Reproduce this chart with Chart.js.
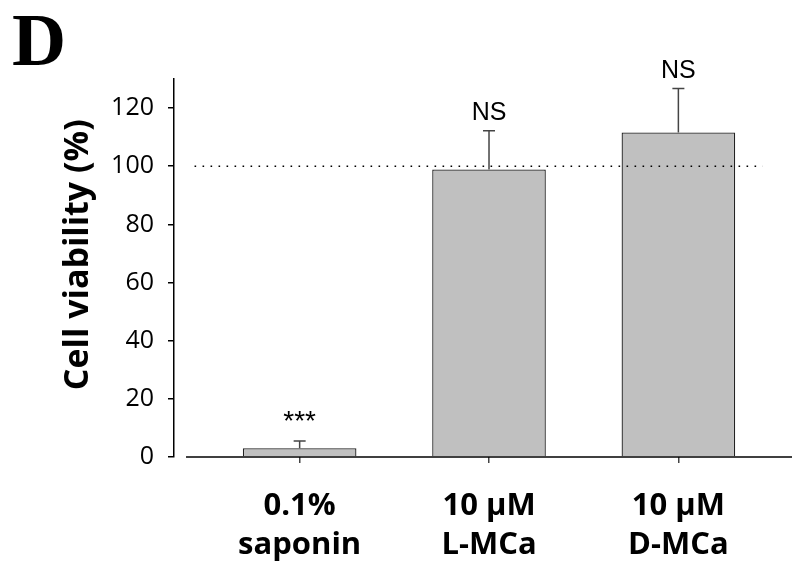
<!DOCTYPE html>
<html>
<head>
<meta charset="utf-8">
<script src="https://cdn.jsdelivr.net/npm/chart.js@4.4.1/dist/chart.umd.min.js"></script>
<style>
    body { margin: 0; background: #fff; }
    #wrap { position: relative; width: 798px; height: 580px; }
    #panel { position: absolute; left: 12px; top: 2px; font: bold 75px "Liberation Serif", serif; line-height: 1; color: #000; }
</style>
</head>
<body>
<div id="wrap">
    <canvas id="viabilityChart" width="798" height="580"></canvas>
    <div id="panel">D</div>
</div>
<script>
const categories = [["0.1%", "saponin"], ["10 μM", "L-MCa"], ["10 μM", "D-MCa"]];
const viability = [3.0, 98.9, 111.6];
const errorTop = [5.5, 112.2, 126.7];
const significance = ["***", "NS", "NS"];
const yTicks = [0, 20, 40, 60, 80, 100, 120];
const controlLevel = 100;

// error bars (upper only), significance marks and the offset x baseline
const errorBars = {
    id: "errorBars",
    afterDatasetsDraw(chart) {
        const ctx = chart.ctx;
        const x = chart.scales.x;
        const y = chart.scales.y;
        const bars = chart.getDatasetMeta(0).data;
        ctx.save();
        bars.forEach((bar, i) => {
            const top = y.getPixelForValue(errorTop[i]);
            ctx.strokeStyle = "#444";
            ctx.lineWidth = 1.5;
            ctx.beginPath();
            ctx.moveTo(bar.x, bar.y);
            ctx.lineTo(bar.x, top);
            ctx.moveTo(bar.x - 6, top);
            ctx.lineTo(bar.x + 6, top);
            ctx.stroke();
            ctx.fillStyle = "#000";
            ctx.textAlign = "center";
            ctx.textBaseline = "alphabetic";
            ctx.font = significance[i] === "***" ? "28px 'Liberation Sans'" : "25px 'Liberation Sans'";
            ctx.fillText(significance[i], bar.x, top - 11);
        });
        const y0 = y.getPixelForValue(0);
        ctx.strokeStyle = "#000";
        ctx.lineWidth = 1.5;
        ctx.beginPath();
        ctx.moveTo(x.getPixelForValue(-0.6), y0);
        ctx.lineTo(chart.chartArea.right, y0);
        ctx.stroke();
        ctx.restore();
    }
};

new Chart(document.getElementById("viabilityChart"), {
    type: "bar",
    data: {
        datasets: [
            {
                data: viability.map((v, i) => ({ x: i, y: v })),
                backgroundColor: "#c0c0c0",
                borderColor: "#222",
                borderWidth: 1.3,
                borderSkipped: "start",
                categoryPercentage: 1,
                barPercentage: 0.6,
                order: 1
            },
            {
                type: "line",
                data: [{ x: -0.555, y: controlLevel }, { x: 2.445, y: controlLevel }],
                borderColor: "#000",
                borderWidth: 1.6,
                borderDash: [1.6, 6.4],
                pointRadius: 0,
                fill: false,
                order: 0
            }
        ]
    },
    options: {
        responsive: false,
        animation: false,
        layout: { padding: { top: 79, right: 6, left: 0, bottom: 0 } },
        plugins: { legend: { display: false }, tooltip: { enabled: false } },
        scales: {
            x: {
                type: "linear",
                offset: false,
                min: -0.6635,
                max: 2.6,
                afterBuildTicks: s => { s.ticks = categories.map((c, i) => ({ value: i })); },
                afterFit: s => { s.height = 123; },
                ticks: {
                    callback: v => categories[v],
                    font: { family: "Open Sans", weight: "bold", size: 31, lineHeight: "39px" },
                    color: "#000",
                    padding: 24,
                    maxRotation: 0,
                    autoSkip: false
                },
                grid: { offset: false, drawOnChartArea: false, tickLength: 6, color: "#444", lineWidth: 1.5 },
                border: { display: false }
            },
            y: {
                min: 0,
                max: 130,
                afterBuildTicks: s => { s.ticks = yTicks.map(v => ({ value: v })); },
                afterFit: s => { s.width = 174; },
                ticks: {
                    font: { family: "Open Sans", size: 25 },
                    color: "#000",
                    padding: 14
                },
                grid: { drawOnChartArea: false, tickLength: 6, color: "#000", lineWidth: 1.5 },
                border: { color: "#000", width: 1.5 },
                title: {
                    display: true,
                    text: "\u00a0\u00a0\u00a0Cell viability (%)",
                    font: { family: "Open Sans", weight: "bold", size: 34 },
                    color: "#000",
                    padding: { top: 58, bottom: 0 }
                }
            }
        }
    },
    plugins: [errorBars]
});
</script>
</body>
</html>
